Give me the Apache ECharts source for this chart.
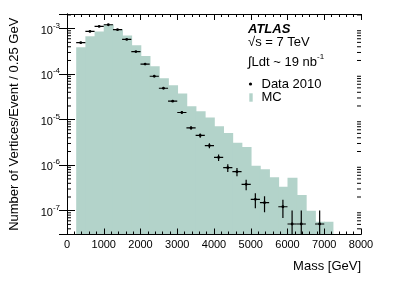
<!DOCTYPE html>
<html><head><meta charset="utf-8">
<script src="https://cdn.jsdelivr.net/npm/echarts@6/dist/echarts.min.js"></script>
<style>html,body{margin:0;padding:0;background:#fff}#c{width:415px;height:281px}</style>
</head><body><div id="c"></div>
<script>
// ---- data ----
const binLow  = [250,500,750,1000,1250,1500,1750,2000,2250,2500,2750,3000,3250,3500,3750,4000,4250,4500,4750,5000,5250,5500,5750,6000,6250,6500,6750,7000];
const binHigh = [500,750,1000,1250,1500,1750,2000,2250,2500,2750,3000,3250,3500,3750,4000,4250,4500,4750,5000,5250,5500,5750,6000,6250,6500,6750,7000,7250];
const mcValues = [3.9e-4,6.8e-4,8.7e-4,1.24e-3,9.7e-4,7.1e-4,4.3e-4,2.5e-4,1.49e-4,8.1e-5,5.7e-5,3.76e-5,1.98e-5,1.53e-5,1.12e-5,7.2e-6,5.1e-6,3.1e-6,2.5e-6,9.7e-7,8.1e-7,5.4e-7,3.36e-7,5.3e-7,2.2e-7,1.0e-7,5.7e-8,5.7e-8];

const dataMass   = [375,625,875,1125,1375,1625,1875,2125,2375,2625,2875,3125,3375,3625,3875,4125,4375,4625,4875,5125,5375,5875,6125,6375,6875];
const dataValues = [4.93e-4,8.7e-4,1.12e-3,1.22e-3,9.5e-4,5.8e-4,3.13e-4,1.67e-4,9.0e-5,4.9e-5,2.55e-5,1.44e-5,6.6e-6,4.5e-6,2.7e-6,1.48e-6,8.8e-7,7.2e-7,3.8e-7,1.78e-7,1.5e-7,1.22e-7,5.1e-8,5.1e-8,5.1e-8];
const dataErrors = [0.5e-5,0.67e-5,0.75e-5,0.79e-5,0.69e-5,0.54e-5,0.39e-5,0.29e-5,0.21e-5,0.16e-5,0.11e-5,0.09e-5,0.58e-6,0.48e-6,0.33e-6,0.24e-6,0.17e-6,0.15e-6,0.1e-6,0.65e-7,0.57e-7,0.53e-7,0.5e-7,0.5e-7,0.5e-7];
const binHalfWidth = 125;

const xTickLabels = ['0','1000','2000','3000','4000','5000','6000','7000','8000'];
const yMajorExponents = [-7,-6,-5,-4,-3];
const X_MIN = 0, X_MAX = 8000, X_STEP = 1000;
const Y_MIN = 3.0e-8, Y_MAX = 2.1e-3;

const MC_COLOR = '#b3d3ca';
const FONT = '"Liberation Sans", Arial, Helvetica, sans-serif';

// minor log ticks (2..9 x 10^k)
const minorTicks = [];
for (let k = -8; k <= -3; k++) for (let m = 2; m <= 9; m++) {
  const v = m * Math.pow(10, k);
  if (v > Y_MIN && v < Y_MAX) minorTicks.push([X_MIN, v]);
}

const chart = echarts.init(document.getElementById('c'), null, {renderer: 'canvas'});

function renderBin(params, api) {
  const x0 = api.value(0), x1 = api.value(1), v = api.value(2);
  const p0 = api.coord([x0, v]);
  const p1 = api.coord([x1, Y_MIN]);
  const isLast = params.dataIndex === binLow.length - 1;
  const overlap = isLast ? 0 : 0.8;
  return {type: 'rect', shape: {x: p0[0], y: p0[1], width: p1[0] - p0[0] + overlap, height: p1[1] - p0[1]},
    style: {fill: MC_COLOR}};
}
function renderPoint(params, api) {
  const x = api.value(0), v = api.value(1), e = api.value(2);
  const lo = Math.max(v - e, Y_MIN);
  const c = api.coord([x, v]);
  const l = api.coord([x - binHalfWidth, v]);
  const r = api.coord([x + binHalfWidth, v]);
  const t = api.coord([x, v + e]);
  const b = api.coord([x, lo]);
  return {type: 'group', children: [
    {type: 'line', shape: {x1: l[0], y1: c[1], x2: r[0], y2: c[1]}, style: {stroke: '#000', lineWidth: 1.2}},
    {type: 'line', shape: {x1: c[0], y1: t[1], x2: c[0], y2: b[1]}, style: {stroke: '#000', lineWidth: 1.2}},
    {type: 'circle', shape: {cx: c[0], cy: c[1], r: 1.4}, style: {fill: '#000'}}
  ]};
}
function renderMinor(params, api) {
  const v = api.value(1);
  const pl = api.coord([X_MIN, v]);
  const pr = api.coord([X_MAX, v]);
  return {type: 'group', children: [
    {type: 'line', shape: {x1: pl[0], y1: pl[1], x2: pl[0] + 4, y2: pl[1]}, style: {stroke: '#000', lineWidth: 1}},
    {type: 'line', shape: {x1: pr[0], y1: pr[1], x2: pr[0] - 4, y2: pr[1]}, style: {stroke: '#000', lineWidth: 1}}
  ]};
}

const axisLineStyle = {show: true, lineStyle: {color: '#000', width: 1}};
const xCommon = {
  type: 'value', min: X_MIN, max: X_MAX, interval: X_STEP, z: 5,
  axisLine: axisLineStyle,
  axisTick: {show: true, inside: true, length: 6, lineStyle: {color: '#000'}},
  minorTick: {show: true, splitNumber: 5, length: 3, lineStyle: {color: '#000'}},
  splitLine: {show: false}
};
const yCommon = {
  type: 'log', logBase: 10, min: Y_MIN, max: Y_MAX, z: 5,
  axisLine: axisLineStyle,
  axisTick: {show: true, inside: true, length: 8, lineStyle: {color: '#000'}},
  splitLine: {show: false}
};

chart.setOption({
  animation: false,
  backgroundColor: '#fff',
  textStyle: {fontFamily: FONT},
  grid: {left: 66, top: 14, right: 54, bottom: 46.5, containLabel: false},
  xAxis: [
    Object.assign({}, xCommon, {position: 'bottom',
      axisLabel: {show: true, margin: 5, fontSize: 11, color: '#000', fontFamily: FONT,
        formatter: (v) => xTickLabels[Math.round((v - X_MIN) / X_STEP)] ?? ''}}),
    Object.assign({}, xCommon, {position: 'top', axisLabel: {show: false}})
  ],
  yAxis: [
    Object.assign({}, yCommon, {position: 'left',
      name: 'Number of Vertices/Event / 0.25 GeV', nameLocation: 'middle', nameGap: 46,
      nameTextStyle: {fontSize: 13, color: '#000', fontFamily: FONT},
      axisLabel: {show: true, margin: 7, color: '#000', showMinLabel: false, showMaxLabel: false,
        formatter: (v) => {
          const e = Math.round(Math.log10(v));
          if (!yMajorExponents.includes(e) || Math.abs(Math.log10(v) - e) > 1e-6) return '';
          return '{b|10}{s|' + e + '}';
        },
        rich: {
          b: {fontSize: 11, fontFamily: FONT, color: '#000', padding: [4, 0, 0, 0]},
          s: {fontSize: 8, fontFamily: FONT, color: '#000', padding: [0, 0, 6, 0]}
        }}}),
    Object.assign({}, yCommon, {position: 'right', axisLabel: {show: false}})
  ],
  series: [
    {type: 'custom', name: 'MC', renderItem: renderBin, z: 1, clip: true,
      data: binLow.map((lo, i) => [lo, binHigh[i], mcValues[i]]), encode: {x: [0, 1], y: 2}},
    {type: 'custom', name: 'minor', renderItem: renderMinor, z: 6, silent: true,
      data: minorTicks, encode: {x: 0, y: 1}},
    {type: 'custom', name: 'Data 2010', renderItem: renderPoint, z: 7, clip: true,
      data: dataMass.map((m, i) => [m, dataValues[i], dataErrors[i]]), encode: {x: 0, y: 1}}
  ],
  graphic: [
    {type: 'text', left: 248, top: 23, style: {text: 'ATLAS', font: 'italic bold 13px ' + FONT, fill: '#000'}},
    {type: 'text', left: 248, top: 36, style: {text: '√s = 7 TeV', font: '13px ' + FONT, fill: '#000'}},
    {type: 'text', left: 248, top: 53, style: {text: '{i|∫Ldt ~ 19 nb}{s|-1}', fill: '#000',
      rich: {i: {fontSize: 13, fontFamily: FONT, fill: '#000', padding: [3, 0, 0, 0]},
             s: {fontSize: 8, fontFamily: FONT, fill: '#000', padding: [0, 0, 7, 0]}}}},
    {type: 'circle', shape: {cx: 250.5, cy: 84, r: 1.6}, style: {fill: '#000'}},
    {type: 'text', left: 261.5, top: 77.5, style: {text: 'Data 2010', font: '13px ' + FONT, fill: '#000'}},
    {type: 'rect', shape: {x: 249.3, y: 93.3, width: 3.4, height: 8.4}, style: {fill: MC_COLOR}},
    {type: 'text', left: 261.5, top: 91, style: {text: 'MC', font: '13px ' + FONT, fill: '#000'}},
    {type: 'text', right: 54, top: 260, style: {text: 'Mass [GeV]', font: '13px ' + FONT, fill: '#000'}}
  ]
});
</script>
</body></html>
